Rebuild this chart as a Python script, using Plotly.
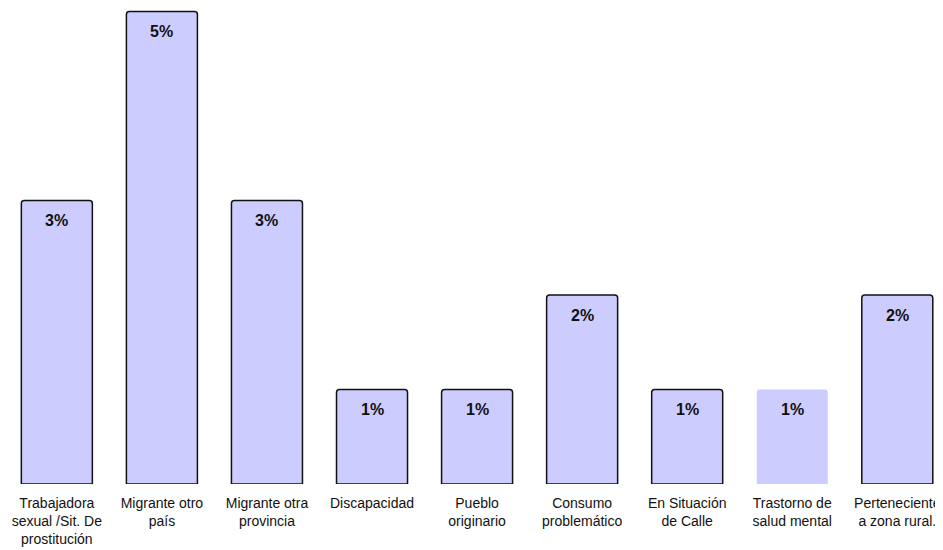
import plotly.graph_objects as go

categories = [
    "Trabajadora<br>sexual /Sit. De<br>prostitución",
    "Migrante otro<br>país",
    "Migrante otra<br>provincia",
    "Discapacidad",
    "Pueblo<br>originario",
    "Consumo<br>problemático",
    "En Situación<br>de Calle",
    "Trastorno de<br>salud mental",
    "Perteneciente<br>a zona rural.",
]
values = [3, 5, 3, 1, 1, 2, 1, 1, 2]
labels = ["3%", "5%", "3%", "1%", "1%", "2%", "1%", "1%", "2%"]
outline_widths = [1.5, 1.5, 1.5, 1.5, 1.5, 1.5, 1.5, 0, 1.5]

fig = go.Figure()
fig.add_trace(go.Bar(
    x=categories,
    y=values,
    marker=dict(color="#ccccff", line=dict(color="#111111", width=outline_widths)),
    width=0.676,
    hoverinfo="skip",
))

for c, v, t in zip(categories, values, labels):
    fig.add_annotation(x=c, y=v, text="<b>%s</b>" % t, showarrow=False,
                       yshift=-20, font=dict(family="Liberation Sans, Arial", size=16, color="#111111"))

fig.update_layout(
    width=935, height=542,
    margin=dict(l=0, r=0, t=0, b=66),
    paper_bgcolor="white", plot_bgcolor="white",
    barcornerradius=3,
    showlegend=False,
    font=dict(family="Liberation Sans, Arial", size=14, color="#111111"),
)
fig.update_xaxes(range=[-0.465, 8.435], showline=False, showgrid=False, zeroline=False,
                 ticks="", ticklabelstandoff=9, ticklabeloverflow="allow",
                 tickfont=dict(size=14, color="#111111"))
fig.update_yaxes(range=[0, 5.037], showline=False, showgrid=False, zeroline=False,
                 showticklabels=False, ticks="")

fig.write_html("out.html")
